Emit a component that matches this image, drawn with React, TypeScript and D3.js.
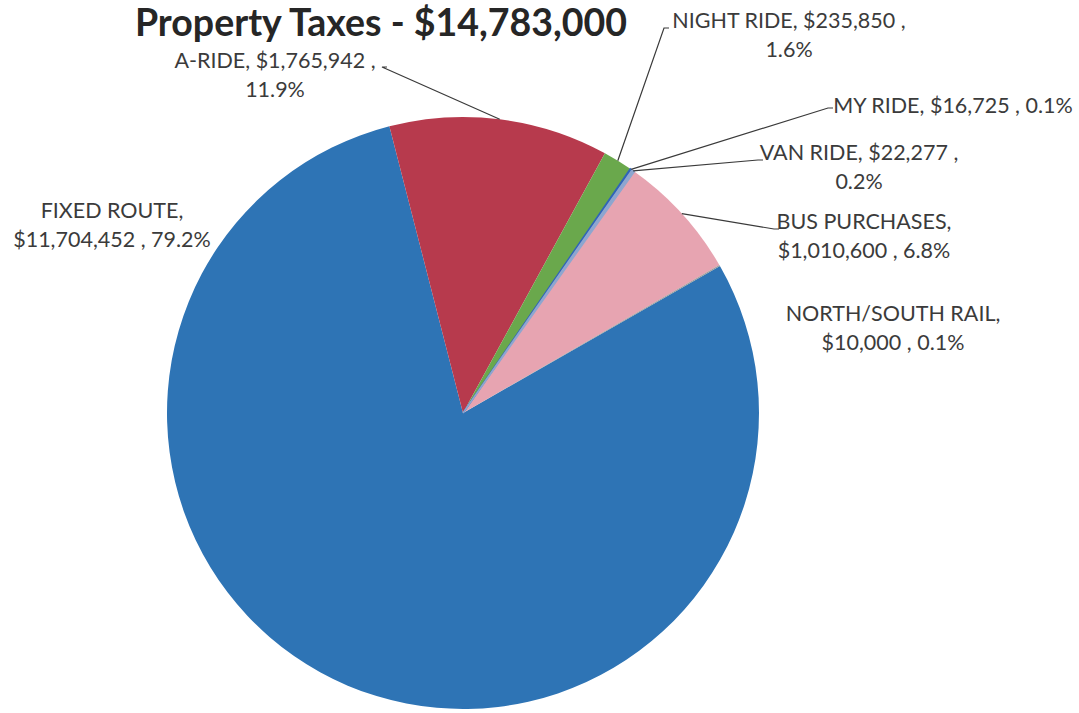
import { useEffect, useRef } from "react";
import * as d3 from "d3";

// Slices, in drawing order (clockwise from the A-RIDE start edge)
const categories = [
  "A-RIDE",
  "NIGHT RIDE",
  "MY RIDE",
  "VAN RIDE",
  "BUS PURCHASES",
  "NORTH/SOUTH RAIL",
  "FIXED ROUTE",
];
const amounts = [1765942, 235850, 16725, 22277, 1010600, 10000, 11704452];
const percents = ["11.9%", "1.6%", "0.1%", "0.2%", "6.8%", "0.1%", "79.2%"];
const colors = [
  "#b73a4d",
  "#6aa84c",
  "#2f64b8",
  "#8ea6cf",
  "#e7a4b1",
  "#9a9a9a",
  "#2e74b5",
];

const title = "Property Taxes - $14,783,000";

// label layout: text lines, anchor and whether a leader line is drawn
type LabelSpec = {
  lines: string[];
  x: number;
  y: number;
  leader?: [number, number];
};

const fmt = (v: number) => "$" + d3.format(",")(v);

export default function App() {
  const svgRef = useRef<SVGSVGElement>(null);
  const width = 1079;
  const height = 713;

  useEffect(() => {
    const svg = d3.select(svgRef.current);
    svg.selectAll("*").remove();

    const cx = 463;
    const cy = 413;
    const r = 296;

    const data = categories.map((c, i) => ({
      name: c,
      value: amounts[i],
      pct: percents[i],
      color: colors[i],
    }));

    const start = (-14.4 * Math.PI) / 180;
    const pie = d3
      .pie<any>()
      .sort(null)
      .value((d) => d.value)
      .startAngle(start)
      .endAngle(start + 2 * Math.PI);
    const arcs = pie(data);

    const arc = d3.arc<any>().innerRadius(0).outerRadius(r);
    const edge = d3.arc<any>().innerRadius(r).outerRadius(r);

    const g = svg.append("g").attr("transform", `translate(${cx},${cy})`);

    // slices, fixed route first so the thin ones sit on top
    const drawOrder = [6, 0, 1, 4, 5, 2, 3];
    g.selectAll("path")
      .data(drawOrder.map((i) => arcs[i]))
      .join("path")
      .attr("d", arc)
      .attr("fill", (d) => d.data.color)
      .attr("stroke", (d) =>
        d.data.name === "MY RIDE" || d.data.name === "VAN RIDE"
          ? d.data.color
          : "none"
      )
      .attr("stroke-width", 1.5);

    const specs: LabelSpec[] = [
      {
        lines: [`A-RIDE, ${fmt(amounts[0])} ,`, percents[0]],
        x: 275,
        y: 68,
        leader: [382, 67],
      },
      {
        lines: [`NIGHT RIDE, ${fmt(amounts[1])} ,`, percents[1]],
        x: 789,
        y: 28,
        leader: [664, 28],
      },
      {
        lines: [`MY RIDE, ${fmt(amounts[2])} , ${percents[2]}`],
        x: 953,
        y: 113,
        leader: [828, 108],
      },
      {
        lines: [`VAN RIDE, ${fmt(amounts[3])} ,`, percents[3]],
        x: 859,
        y: 160,
        leader: [758, 160],
      },
      {
        lines: ["BUS PURCHASES,", `${fmt(amounts[4])} , ${percents[4]}`],
        x: 864,
        y: 229,
        leader: [774, 229],
      },
      {
        lines: ["NORTH/SOUTH RAIL,", `${fmt(amounts[5])} , ${percents[5]}`],
        x: 893,
        y: 321,
      },
      {
        lines: ["FIXED ROUTE,", `${fmt(amounts[6])} , ${percents[6]}`],
        x: 112,
        y: 218,
      },
    ];

    // leader lines
    specs.forEach((s, i) => {
      if (!s.leader) return;
      const [ex, ey] = edge.centroid(arcs[i]);
      svg
        .append("path")
        .attr(
          "d",
          `M${s.leader[0] + 5},${s.leader[1]}L${s.leader[0]},${s.leader[1]}L${
            cx + ex
          },${cy + ey}`
        )
        .attr("fill", "none")
        .attr("stroke", "#3a3a3a")
        .attr("stroke-width", 1.2);
    });

    // labels
    specs.forEach((s) => {
      const t = svg
        .append("text")
        .attr("x", s.x)
        .attr("y", s.y)
        .attr("text-anchor", "middle")
        .attr("font-family", "Lato, 'Open Sans', sans-serif")
        .attr("font-size", 21.5)
        .attr("fill", "#3b3b3b");
      s.lines.forEach((l, j) => {
        t.append("tspan")
          .attr("x", s.x)
          .attr("dy", j === 0 ? 0 : 28.5)
          .text(l);
      });
    });

    // title
    svg
      .append("text")
      .attr("x", 381)
      .attr("y", 36)
      .attr("text-anchor", "middle")
      .attr("font-family", "Lato, 'Open Sans', sans-serif")
      .attr("font-weight", 700)
      .attr("font-size", 37.5)
      .attr("fill", "#262626")
      .text(title);
  }, []);

  return (
    <svg
      ref={svgRef}
      width={width}
      height={height}
      style={{ position: "absolute", left: 0, top: 0, background: "#fff" }}
    />
  );
}
